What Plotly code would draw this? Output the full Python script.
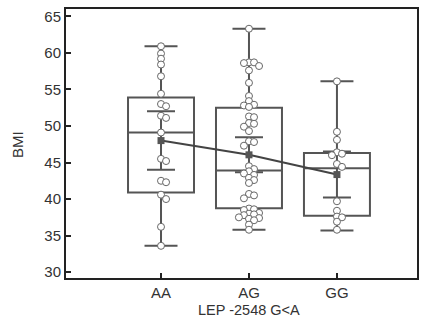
import plotly.graph_objects as go

categories = ["AA", "AG", "GG"]

aa_values = [60.9, 59.9, 59.2, 58.4, 56.8, 54.4, 53.0, 52.7, 51.4, 51.1, 49.1,
             45.5, 45.2, 42.5, 42.3, 40.6, 40.0, 36.2, 33.6]
ag_values = [63.3, 58.7, 58.7, 58.6, 58.2, 57.6, 55.9,
             54.1, 53.4, 52.9, 52.8, 52.6,
             51.3, 51.2, 50.4, 50.3, 49.9, 49.3,
             47.9, 47.8, 47.3,
             44.5, 44.1, 43.8, 43.5, 43.3, 42.9, 42.6, 42.2,
             40.7, 40.5, 40.1,
             38.7, 38.6, 38.5, 38.1, 38.0, 37.9, 37.8, 37.5, 37.4, 37.3, 37.1,
             36.5, 35.8]
gg_values = [56.1, 49.2, 48.1, 46.4, 46.2, 46.0, 44.8, 44.4, 39.7, 38.4,
             37.6, 37.5, 36.9, 35.8]

q1 = [40.9, 38.75, 37.7]
median = [49.1, 43.9, 44.2]
q3 = [53.9, 52.5, 46.3]
lower_whisker = [33.6, 35.8, 35.7]
upper_whisker = [60.9, 63.3, 56.1]
means = [48.0, 46.05, 43.35]
ci_half = [4.0, 2.4, 3.15]
y_ticks = [30, 35, 40, 45, 50, 55, 60, 65]

# ---- figure geometry helpers (for beeswarm layout) ----
xr = [-1.08, 2.91]
yr = [29.2, 66.0]
W, H = 422, 326
ml, mr, mt, mb = 66, 5, 9, 48
px_x = (W - ml - mr) / (xr[1] - xr[0])
px_y = (H - mt - mb) / (yr[1] - yr[0])
diam = 7.0
sep = diam * 0.72


def swarm(vals, center):
    placed = []
    xs = []
    step = sep / px_x
    cands = [0]
    for i in range(1, 12):
        cands += [i * 0.5, -i * 0.5]
    for v in vals:
        x = center
        for c in cands:
            x = center + c * step * 2
            ok = True
            for (px, py) in placed:
                dx = (x - px) * px_x
                dy = (v - py) * px_y
                if dx * dx + dy * dy < sep ** 2:
                    ok = False
                    break
            if ok:
                break
        placed.append((x, v))
        xs.append(x)
    return xs


fig = go.Figure()

box_color = "#555555"
fig.add_trace(go.Box(
    x=[0, 1, 2], q1=q1, median=median, q3=q3,
    lowerfence=lower_whisker, upperfence=upper_whisker,
    boxpoints=False, width=0.75, whiskerwidth=0.5,
    fillcolor="rgba(0,0,0,0)",
    line=dict(color=box_color, width=2),
    showlegend=False, hoverinfo="skip",
))

# mean line with CI bars
fig.add_trace(go.Scatter(
    x=[0, 1, 2], y=means, mode="lines+markers",
    line=dict(color="#444444", width=2),
    marker=dict(symbol="square", size=7, color="#555555"),
    error_y=dict(type="data", array=ci_half, visible=True,
                 color=box_color, thickness=2, width=14),
    showlegend=False,
))

for i, vals in enumerate([aa_values, ag_values, gg_values]):
    xs = swarm(vals, i)
    fig.add_trace(go.Scatter(
        x=xs, y=vals, mode="markers",
        marker=dict(symbol="circle", size=7, color="white",
                    line=dict(color="#666666", width=1)),
        showlegend=False,
    ))

font_family = "Liberation Sans, Arial, sans-serif"
fs = 15
axis_common = dict(
    showline=True, linecolor="#222222", linewidth=2, mirror=True,
    ticks="inside", ticklen=5, tickwidth=1.5, tickcolor="#222222",
    showgrid=False, zeroline=False, automargin=False,
    tickfont=dict(family=font_family, size=fs, color="#333333"),
)

plot_h = H - mt - mb
plot_w = W - ml - mr
fig.update_layout(
    width=W, height=H,
    margin=dict(l=ml, r=mr, t=mt, b=mb, autoexpand=False),
    paper_bgcolor="white", plot_bgcolor="white",
    font=dict(family=font_family, size=fs, color="#333333"),
    xaxis=dict(range=xr, tickvals=[0, 1, 2], ticktext=categories,
               **axis_common),
    yaxis=dict(range=yr, tickvals=y_ticks, **axis_common),
    annotations=[
        dict(text="LEP -2548 G<A", x=1, xref="x",
             y=1 - (310 - mt) / plot_h, yref="paper",
             xanchor="center", yanchor="middle",
             showarrow=False, font=dict(size=14.5, color="#333333")),
        dict(text="BMI", x=(17 - ml) / plot_w, xref="paper",
             y=1 - (145 - mt) / plot_h, yref="paper",
             xanchor="center", yanchor="middle", textangle=-90,
             showarrow=False, font=dict(size=fs, color="#333333")),
    ],
)

fig.write_html("out.html", config={"displayModeBar": False})

# remove default page margin so the figure sits at the window's top-left
with open("out.html", "r", encoding="utf-8") as f:
    html = f.read()
html = html.replace("<head>", "<head><style>html,body{margin:0;padding:0;overflow:hidden;}</style>", 1)
with open("out.html", "w", encoding="utf-8") as f:
    f.write(html)
